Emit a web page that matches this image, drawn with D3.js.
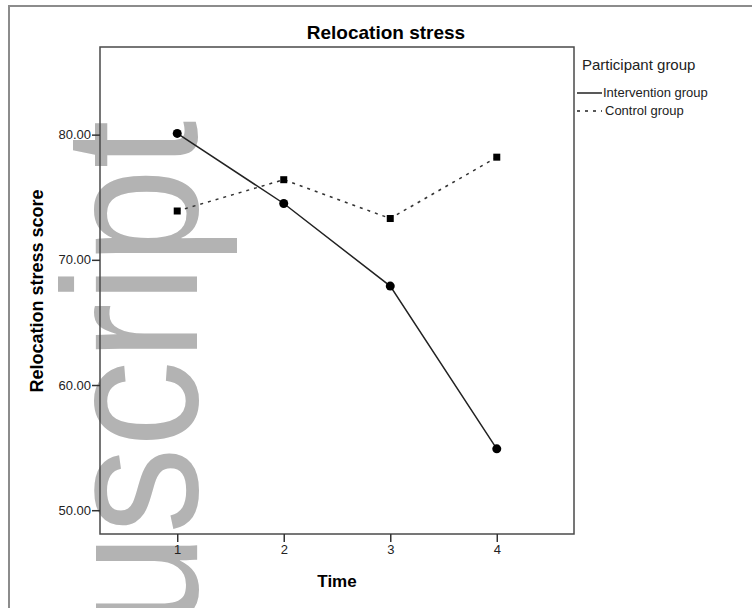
<!DOCTYPE html>
<html>
<head>
<meta charset="utf-8">
<script src="https://cdn.jsdelivr.net/npm/d3@7"></script>
<style>
  body { margin: 0; background: #fff; }
  text { font-family: "Liberation Sans", Arial, sans-serif; }
</style>
</head>
<body>
<svg width="752" height="608"></svg>
<script>
// values
var times = [1, 2, 3, 4];
var intervention = [80.1, 74.5, 67.9, 54.9];
var control = [73.9, 76.4, 73.3, 78.2];
var yTicks = [50, 60, 70, 80];
var groups = ["Intervention group", "Control group"];

var svg = d3.select("svg");

// outer border
svg.append("path")
  .attr("d", "M9,608V6H752")
  .attr("fill", "none")
  .attr("stroke", "#8c8c8c")
  .attr("stroke-width", 2);

// grey watermark behind the chart
svg.append("text")
  .attr("transform", "translate(197,630) rotate(-90) scale(1,1.1)")
  .attr("font-size", "173px")
  .attr("fill", "#b3b3b3")
  .text("uscript");

var x = d3.scaleLinear().domain([0.275, 4.725]).range([100, 574]);
var y = d3.scaleLinear().domain([48.1, 87]).range([534, 47]);

// frame
svg.append("rect")
  .attr("x", 100).attr("y", 47)
  .attr("width", 474).attr("height", 487)
  .attr("fill", "none")
  .attr("stroke", "#4a4a4a")
  .attr("stroke-width", 1.5);

var yAxis = svg.append("g")
  .attr("transform", "translate(100,0)")
  .call(d3.axisLeft(y).tickValues(yTicks).tickFormat(d3.format(".2f")).tickSize(8).tickPadding(1));
var xAxis = svg.append("g")
  .attr("transform", "translate(0,534)")
  .call(d3.axisBottom(x).tickValues(times).tickFormat(d3.format("d")).tickSize(8).tickPadding(3));

svg.selectAll(".domain").remove();
svg.selectAll(".tick line").attr("stroke", "#333").attr("stroke-width", 1.5);
svg.selectAll(".tick text")
  .attr("font-family", "'Liberation Sans', Arial, sans-serif")
  .attr("font-size", "13px")
  .attr("fill", "#222");

// titles
svg.append("text")
  .attr("x", 386).attr("y", 39)
  .attr("text-anchor", "middle")
  .attr("font-size", "19px").attr("font-weight", "bold")
  .text("Relocation stress");

svg.append("text")
  .attr("x", 337).attr("y", 587)
  .attr("text-anchor", "middle")
  .attr("font-size", "17px").attr("font-weight", "bold")
  .text("Time");

svg.append("text")
  .attr("transform", "translate(43,291) rotate(-90)")
  .attr("text-anchor", "middle")
  .attr("font-size", "18px").attr("font-weight", "bold")
  .text("Relocation stress score");

// lines
var line = d3.line()
  .x(function(d, i) { return x(times[i]); })
  .y(function(d) { return y(d); });

svg.append("path")
  .attr("d", line(control))
  .attr("fill", "none")
  .attr("stroke", "#333")
  .attr("stroke-width", 1.5)
  .attr("stroke-dasharray", "3,5");

svg.append("path")
  .attr("d", line(intervention))
  .attr("fill", "none")
  .attr("stroke", "#222")
  .attr("stroke-width", 1.5);

svg.selectAll("circle.pt")
  .data(intervention)
  .enter()
  .append("circle")
  .attr("class", "pt")
  .attr("cx", function(d, i) { return x(times[i]); })
  .attr("cy", function(d) { return y(d); })
  .attr("r", 4.5)
  .attr("fill", "#000");

svg.selectAll("rect.pt")
  .data(control)
  .enter()
  .append("rect")
  .attr("class", "pt")
  .attr("x", function(d, i) { return x(times[i]) - 3.5; })
  .attr("y", function(d) { return y(d) - 3.5; })
  .attr("width", 7)
  .attr("height", 7)
  .attr("fill", "#000");

// legend
svg.append("text")
  .attr("x", 582).attr("y", 70)
  .attr("font-size", "15px")
  .attr("fill", "#222")
  .text("Participant group");

var legend = svg.selectAll("g.leg")
  .data(groups)
  .enter()
  .append("g")
  .attr("class", "leg")
  .attr("transform", function(d, i) { return "translate(577," + (93 + i * 18) + ")"; });

legend.append("line")
  .attr("x1", 0).attr("x2", 25)
  .attr("stroke", "#222")
  .attr("stroke-width", 1.5)
  .attr("stroke-dasharray", function(d, i) { return i ? "3,5" : null; });

legend.append("text")
  .attr("x", function(d, i) { return i ? 28 : 26; })
  .attr("y", 4)
  .attr("font-size", "13px")
  .attr("fill", "#222")
  .text(function(d) { return d; });
</script>
</body>
</html>
